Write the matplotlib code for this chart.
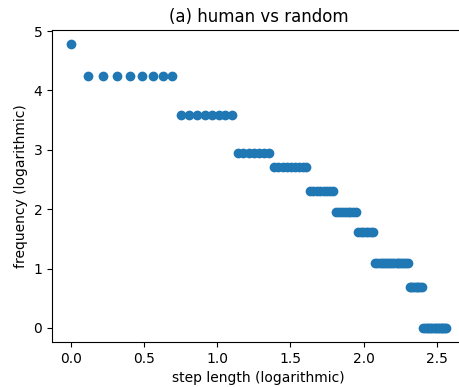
import matplotlib
matplotlib.use('Agg')
from matplotlib import pyplot as plt
import numpy as np

# step length (log) per frequency group
step_groups = [
    [0.0],
    [0.118, 0.223, 0.318, 0.405, 0.486, 0.560, 0.629, 0.693],
    [0.754, 0.811, 0.865, 0.916, 0.965, 1.012, 1.056, 1.099],
    [1.139, 1.179, 1.216, 1.253, 1.288, 1.322, 1.354],
    [1.386, 1.417, 1.447, 1.476, 1.504, 1.531, 1.558, 1.584, 1.609],
    [1.634, 1.658, 1.682, 1.705, 1.727, 1.749, 1.771, 1.792],
    [1.812, 1.833, 1.852, 1.872, 1.891, 1.910, 1.928, 1.946],
    [1.964, 1.981, 1.998, 2.015, 2.031, 2.048, 2.064],
    [2.079, 2.095, 2.110, 2.125, 2.140, 2.155, 2.169, 2.183, 2.197,
     2.211, 2.225, 2.238, 2.251, 2.264, 2.277, 2.290, 2.303],
    [2.315, 2.327, 2.339, 2.351, 2.363, 2.375, 2.386, 2.398],
    [2.409, 2.420, 2.431, 2.442, 2.453, 2.464, 2.474, 2.485,
     2.495, 2.506, 2.515, 2.526, 2.535, 2.545, 2.555, 2.565],
]
# frequency (log) of each group
freq_levels = [4.78, 4.24, 3.58, 2.94, 2.71, 2.30, 1.95, 1.61, 1.10, 0.69, 0.0]

x = np.concatenate([np.array(g) for g in step_groups])
y = np.concatenate([np.full(len(g), v) for g, v in zip(step_groups, freq_levels)])

fig = plt.figure(figsize=(4.6, 3.87), dpi=100)
ax = fig.add_axes([0.113, 0.1158, 0.898, 0.807])
ax.scatter(x, y)
ax.set_title("(a) human vs random")
ax.set_xlabel("step length (logarithmic)")
ax.set_ylabel("frequency (logarithmic)")

fig.savefig("out.png", dpi=100)
plt.close(fig)
